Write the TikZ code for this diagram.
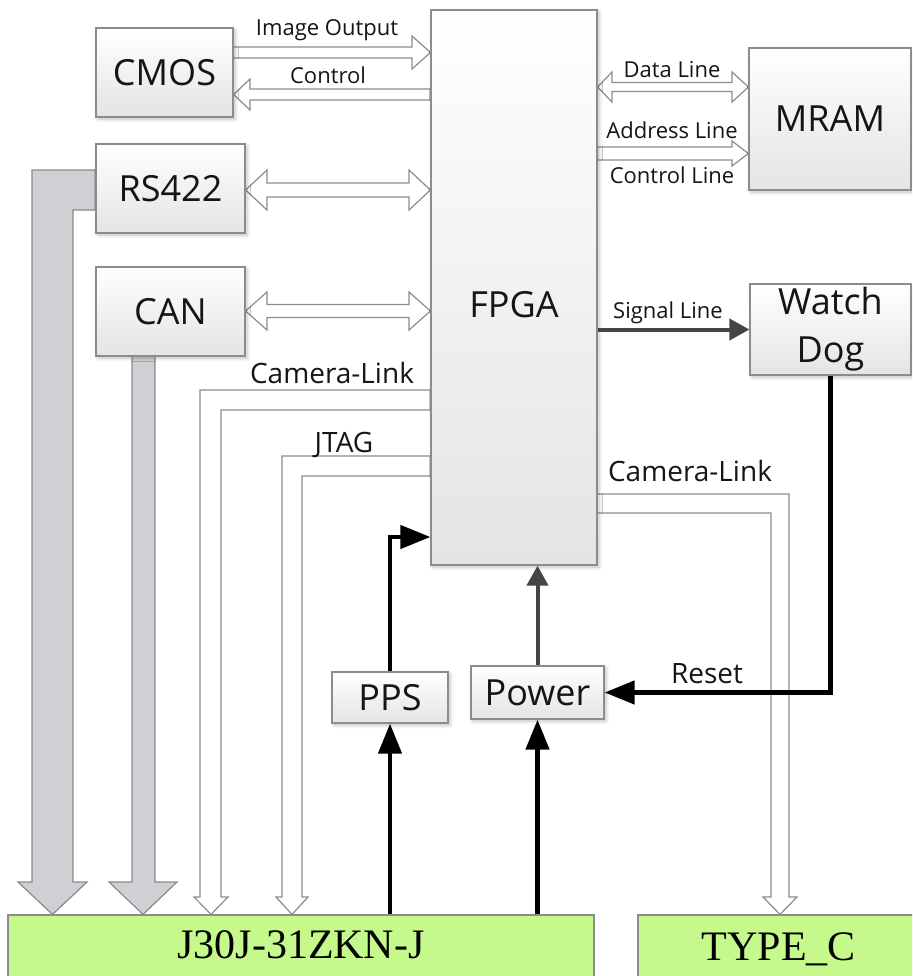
\documentclass[tikz,border=0pt]{standalone}
\usepackage{fontspec}
\setsansfont{Open Sans}
\setmainfont{Liberation Serif}
\usetikzlibrary{arrows.meta, positioning, calc, backgrounds, shadows.blur}
\definecolor{BoxLine}{HTML}{8C8C8C}
\definecolor{BoxShade}{HTML}{E4E4E6}
\definecolor{WideFill}{HTML}{D0D0D4}
\definecolor{WideLine}{HTML}{8A8A8A}
\definecolor{ConnFill}{HTML}{C6F98C}
\definecolor{SigGray}{HTML}{454545}
\definecolor{TextInk}{HTML}{151515}

\begin{document}
\begin{tikzpicture}[
    x=0.5pt, y=-0.5pt,
    bigtxt/.style={text=TextInk, font=\sffamily\fontsize{18}{24}\selectfont},
    blk/.style={
      bigtxt,
      draw=BoxLine,
      line width=0.6pt,
      top color=white,
      bottom color=BoxShade,
      inner sep=0pt,
      align=center,
      blur shadow={shadow xshift=1pt, shadow yshift=-1pt, shadow blur steps=4, shadow opacity=25},
    },
    conn/.style={draw=BoxLine, line width=0.6pt, fill=ConnFill, inner sep=0pt},
    conntext/.style={text=black, font=\rmfamily\fontsize{21}{24}\selectfont},
    lbl/.style={anchor=base, text=TextInk, font=\sffamily\fontsize{11}{13}\selectfont},
    lblbig/.style={lbl, font=\sffamily\fontsize{14}{16}\selectfont},
    hollow/.style={draw=BoxLine, line width=0.6pt, fill=white, line join=miter},
    wide/.style={draw=WideLine, line width=0.6pt, fill=WideFill, line join=miter},
    sig/.style={line width=2.2pt, draw=black, -{Triangle[length=15pt,width=11.5pt]}},
    sigg/.style={line width=2pt, draw=SigGray, -{Triangle[length=10pt,width=10.5pt]}},
  ]
    \useasboundingbox (0,0) rectangle (912,976);
    \clip (0,0) rectangle (912,976);

    \node[blk, minimum width=68.5pt, minimum height=44.5pt] (cmos) at (164.5,72.5) {CMOS};
    \node[blk, minimum width=74.5pt, minimum height=44.5pt] (rs422) at (170.5,188.5) {RS422};
    \node[blk, minimum width=74.5pt, minimum height=44.5pt] (can) at (170.5,311.5) {CAN};
    \node[blk, minimum width=83pt, minimum height=277.5pt,
      label={[bigtxt, yshift=-8.5pt]center:FPGA}] (fpga) at (514,287.5) {};
    \node[blk, minimum width=81pt, minimum height=71pt] (mram) at (830,119) {MRAM};
    \node[blk, minimum width=80.5pt, minimum height=45.5pt] (wdog) at (830.5,329.5) {Watch\\Dog};
    \node[blk, minimum width=58pt, minimum height=25.5pt] (pps) at (390,697.5) {PPS};
    \node[blk, minimum width=66.5pt, minimum height=26.5pt] (power) at (537.5,692.5) {Power};
    \node[conn, minimum width=293pt, minimum height=38pt,
      label={[conntext, yshift=4pt]center:J30J-31ZKN-J}] (j30j) at (301,953) {};
    \node[conn, minimum width=146pt, minimum height=38pt,
      label={[conntext, xshift=-2.5pt, yshift=2pt]center:TYPE\_C}] (typec) at (784,953) {};

    \node[lbl] (imgout) at (327,35) {Image Output};
    \node[lbl] (ctrl) at (328,83) {Control};
    \node[lbl] (dataln) at (672,77) {Data Line};
    \node[lbl] (addrln) at (672,138) {Address Line};
    \node[lbl] (ctrlln) at (672,183) {Control Line};
    \node[lbl] (signal) at (668,318) {Signal Line};
    \node[lblbig] (camleft) at (332,383) {Camera-Link};
    \node[lblbig] (jtag) at (344,452) {JTAG};
    \node[lblbig] (camright) at (690,481) {Camera-Link};
    \node[lblbig] (reset) at (707,683) {Reset};

    \begin{scope}[on background layer]
      \draw[hollow] (cmos.east |- 0,47) -- (412,47) -- (412,36) -- (fpga.west |- 0,52.5)
        -- (412,69) -- (412,58) -- (cmos.east |- 0,58) -- cycle;
      \draw[hollow] (fpga.west |- 0,89) -- (250,89) -- (250,79) -- (cmos.east |- 0,94.5)
        -- (250,110) -- (250,100) -- (fpga.west |- 0,100) -- cycle;
      \draw[hollow] (rs422.east |- 0,190) -- (267,170) -- (267,183) -- (409,183) -- (409,170)
        -- (fpga.west |- 0,190) -- (409,210) -- (409,197) -- (267,197) -- (267,210) -- cycle;
      \draw[hollow] (can.east |- 0,311) -- (267,292) -- (267,304.5) -- (409,304.5) -- (409,292)
        -- (fpga.west |- 0,311) -- (409,330) -- (409,317.5) -- (267,317.5) -- (267,330) -- cycle;
      \draw[hollow] (fpga.east |- 0,87) -- (612,72) -- (612,82.5) -- (732,82.5) -- (732,72)
        -- (mram.west |- 0,87) -- (732,102) -- (732,91.5) -- (612,91.5) -- (612,102) -- cycle;
      \draw[hollow] (fpga.east |- 0,147) -- (732,147) -- (732,141) -- (mram.west |- 0,153.5)
        -- (732,166) -- (732,160) -- (fpga.east |- 0,160) -- cycle;

      \draw[hollow] (fpga.west |- 0,390) -| (200,897) -- (194,897) -- (j30j.north -| 211,0)
        -- (228,897) -- (221,897) |- (fpga.west |- 0,410);
      \draw[hollow] (fpga.west |- 0,456) -| (282,897) -- (276,897) -- (j30j.north -| 292,0)
        -- (308,897) -- (302,897) |- (fpga.west |- 0,476);
      \draw[hollow] (fpga.east |- 0,494) -| (789,897) -- (797,897) -- (typec.north -| 780,0)
        -- (763,897) -- (771,897) |- (fpga.east |- 0,513);

      \draw[wide] (rs422.west |- 0,170) -- (32,170) -- (32,882) -- (18,882) -- (j30j.north -| 52.5,0)
        -- (87,882) -- (73,882) -- (73,210) -- (rs422.west |- 0,210);
      \draw[wide] (can.south -| 132,0) -- (132,882) -- (109,882) -- (j30j.north -| 143,0)
        -- (177,882) -- (155,882) -- (can.south -| 155,0);
    \end{scope}

    \draw[sigg] (fpga.east |- wdog.west) -- (wdog.west);
    \draw[sigg] (power.north) -- (fpga.south -| power.north);
    \draw[sig] (wdog.south) |- (power.east);
    \draw[sig] (pps.north) |- (fpga.west |- 0,537);
    \draw[sig] (pps.south |- j30j.north) -- (pps.south);
    \draw[sig] (power.south |- j30j.north) -- (power.south);
  \end{tikzpicture}
\end{document}
